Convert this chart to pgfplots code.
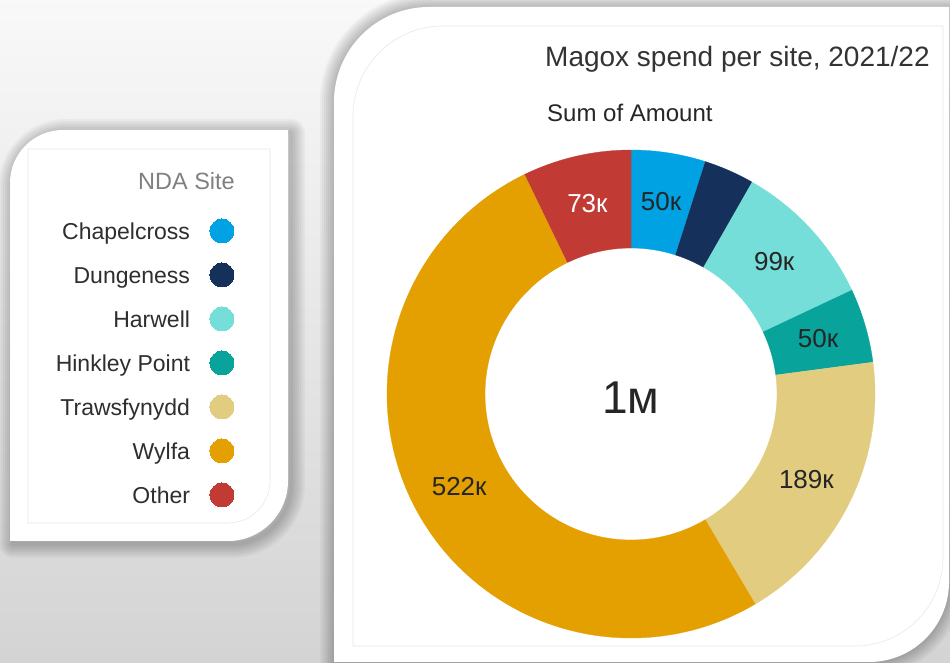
\documentclass[border=0pt]{standalone}
\usepackage{fontspec}
\setmainfont{Liberation Sans}
\usepackage{pgfplots}
\pgfplotsset{compat=1.18}
\definecolor{cChap}{HTML}{00A2E3}
\definecolor{cDung}{HTML}{15305A}
\definecolor{cHarw}{HTML}{75DED8}
\definecolor{cHink}{HTML}{08A39A}
\definecolor{cTraw}{HTML}{E1CC7F}
\definecolor{cWylf}{HTML}{E49F00}
\definecolor{cOthr}{HTML}{C13A34}
\definecolor{txt}{HTML}{252525}
\def\total{1017}
% donut slice: #1 cumulative start (k), #2 value (k), #3 colour, #4 label, #5 label colour
\newcommand{\slice}[5]{%
  \addplot[fill=#3, draw=#3, line width=0.3pt, domain=0:2, samples=401, variable=\t, forget plot]
    ({631+ifthenelse(\t<1.0025,244,146)*sin((#1+#2*ifthenelse(\t<1.0025,min(\t,1),min(1,(2-\t)*1.01)))*360/\total)},
     {394-ifthenelse(\t<1.0025,244,146)*cos((#1+#2*ifthenelse(\t<1.0025,min(\t,1),min(1,(2-\t)*1.01)))*360/\total)});
  \node[font=\fontsize{26}{26}\selectfont, text=#5, inner sep=0pt]
    at (axis cs:{631+195*sin((#1+#2/2)*360/\total)},{394-195*cos((#1+#2/2)*360/\total)}) {#4};
}
\pgfplotsset{dotlegend/.style={only marks, mark=*, mark size=12pt, color=#1,
  mark options={draw=#1, fill=#1, line width=0pt},
  legend image code/.code={\draw[##1] plot coordinates {(12pt,0pt)};}}}
\def\leftcard{(10,122) -- (10,480) arc[start angle=180,end angle=90,radius=53] -- (288,533) -- (288,182) arc[start angle=0,end angle=-90,radius=60] -- cycle}
\def\rightcard{(334,-20) -- (334,561) arc[start angle=180,end angle=90,radius=95] -- (949,656) -- (949,81) arc[start angle=0,end angle=-90,radius=80] -- (334,1) -- cycle}
\begin{document}
\begin{tikzpicture}[x=1pt,y=1pt]
\useasboundingbox (0,0) rectangle (950,663);
\shade[top color=gray!5, bottom color=gray!34] (0,0) rectangle (950,663);
% soft shadows
\foreach \w in {4,8,...,28} {
  \draw[black, opacity=0.035, line width=\w pt, line join=round, xshift=3pt, yshift=-3pt] \leftcard;
  \draw[black, opacity=0.035, line width=\w pt, line join=round] \rightcard;
}
\fill[white] \leftcard;
\fill[white] \rightcard;
% inner frame lines
\draw[gray!18, line width=0.6pt] (28,140) -- (28,514) -- (270,514) -- (270,182) arc[start angle=0,end angle=-90,radius=42] -- cycle;
\draw[gray!18, line width=0.6pt] (353,17) -- (353,547) arc[start angle=180,end angle=90,radius=90] -- (943,637) -- (943,105) arc[start angle=0,end angle=-90,radius=88] -- cycle;
% titles
\node[anchor=base west, inner sep=0pt, font=\fontsize{28}{28}\selectfont, text=black!80] at (545,596) {Magox spend per site, 2021/22};
\node[anchor=base west, inner sep=0pt, font=\fontsize{24}{24}\selectfont, text=black!85] at (547,541.5) {Sum of Amount};
\node[anchor=base east, inner sep=0pt, font=\fontsize{23.5}{23.5}\selectfont, text=black!50] at (235,473.5) {NDA Site};
\begin{axis}[at={(0,0)}, anchor=south west, scale only axis,
  width=950pt, height=663pt, xmin=0, xmax=950, ymin=0, ymax=663,
  y dir=reverse, hide axis, clip=false,
  legend cell align=right, legend plot pos=right,
  legend style={at={(axis description cs:0.2463,0.6697)}, anchor=north east,
    draw=none, fill=none, inner sep=0pt, outer sep=0pt,
    row sep=20pt, column sep=20pt,
    font=\fontsize{23}{23}\selectfont, text=black!82,
    nodes={inner sep=0pt, text height=17pt, text depth=0pt}}]
\slice{0}{50}{cChap}{50к}{txt}
\slice{50}{34}{cDung}{}{white}
\slice{84}{99}{cHarw}{99к}{txt}
\slice{183}{50}{cHink}{50к}{txt}
\slice{233}{189}{cTraw}{189к}{txt}
\slice{422}{522}{cWylf}{522к}{txt}
\slice{944}{73}{cOthr}{73к}{white}
\node[font=\fontsize{46}{46}\selectfont, text=txt, inner sep=0pt] at (axis cs:631,398) {1м};
\addlegendimage{dotlegend=cChap}\addlegendentry{Chapelcross}
\addlegendimage{dotlegend=cDung}\addlegendentry{Dungeness}
\addlegendimage{dotlegend=cHarw}\addlegendentry{Harwell}
\addlegendimage{dotlegend=cHink}\addlegendentry{Hinkley Point}
\addlegendimage{dotlegend=cTraw}\addlegendentry{Trawsfynydd}
\addlegendimage{dotlegend=cWylf}\addlegendentry{Wylfa}
\addlegendimage{dotlegend=cOthr}\addlegendentry{Other}
\end{axis}
\end{tikzpicture}
\end{document}
